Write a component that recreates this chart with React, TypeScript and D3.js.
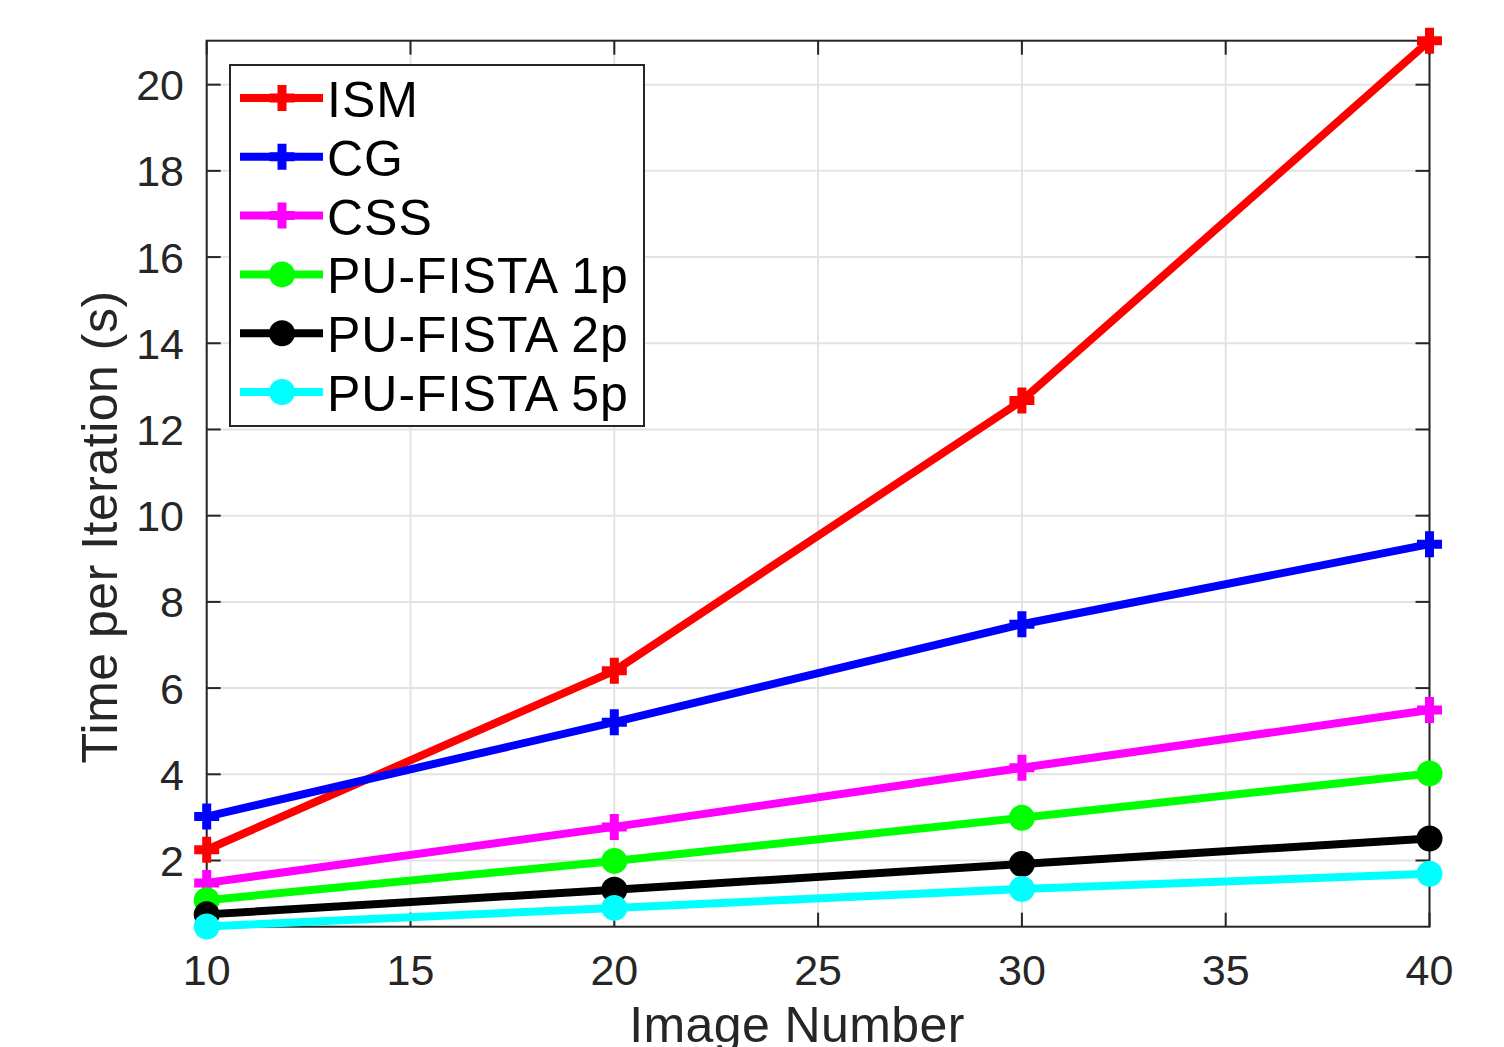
import React from 'react';
import * as d3 from 'd3';

const imageNumbers = [10, 20, 30, 40];
const ismTimes = [2.25, 6.4, 12.67, 21.02];
const cgTimes = [3.02, 5.21, 7.48, 9.34];
const cssTimes = [1.48, 2.78, 4.15, 5.49];
const pu1Times = [1.08, 1.99, 2.99, 4.02];
const pu2Times = [0.75, 1.32, 1.92, 2.51];
const pu5Times = [0.47, 0.9, 1.34, 1.69];

const seriesNames = ['ISM', 'CG', 'CSS', 'PU-FISTA 1p', 'PU-FISTA 2p', 'PU-FISTA 5p'];
const seriesColors = ['#ff0000', '#0000ff', '#ff00ff', '#00ff00', '#000000', '#00ffff'];
const seriesMarkers = ['plus', 'plus', 'plus', 'circle', 'circle', 'circle'];
const seriesValues = [ismTimes, cgTimes, cssTimes, pu1Times, pu2Times, pu5Times];

const xTicks = [10, 15, 20, 25, 30, 35, 40];
const yTicks = [2, 4, 6, 8, 10, 12, 14, 16, 18, 20];

const font = '"Liberation Sans", Arial, Helvetica, sans-serif';
const axisColor = '#262626';

const Marker = ({ kind, x, y, color }: { kind: string; x: number; y: number; color: string }) => {
  if (kind === 'plus') {
    return (
      <path
        d={`M${x - 12.5},${y}H${x + 12.5}M${x},${y - 13}V${y + 13}`}
        stroke={color}
        strokeWidth={9}
        fill="none"
      />
    );
  }
  return <circle cx={x} cy={y} r={13} fill={color} />;
};

export default function App() {
  const width = 1504;
  const height = 1047;
  const left = 206.7;
  const right = 1429.5;
  const top = 40.7;
  const bottom = 926.7;

  const x = d3.scaleLinear().domain([10, 40]).range([left, right]);
  const y = d3.scaleLinear().domain([0.464, 21.02]).range([bottom, top]);

  const line = d3
    .line<number>()
    .x((_, i) => x(imageNumbers[i]))
    .y((d) => y(d));

  const tickLen = 14;
  const legendX = 230;
  const legendY = 65;
  const legendW = 414;
  const legendH = 361;
  const rowY = (i: number) => 98 + i * 58.8;

  return (
    <svg
      width={width}
      height={height}
      style={{ position: 'absolute', left: 0, top: 0, background: '#fff' }}
      fontFamily={font}
    >
      <rect x={0} y={0} width={width} height={height} fill="#fff" />
      {/* grid */}
      <g stroke="#e3e3e3" strokeWidth={2}>
        {xTicks.map((t) => (
          <line key={'gx' + t} x1={x(t)} x2={x(t)} y1={top} y2={bottom} />
        ))}
        {yTicks.map((t) => (
          <line key={'gy' + t} x1={left} x2={right} y1={y(t)} y2={y(t)} />
        ))}
      </g>
      {/* ticks on all sides */}
      <g stroke={axisColor} strokeWidth={2}>
        {xTicks.map((t) => (
          <g key={'tx' + t}>
            <line x1={x(t)} x2={x(t)} y1={bottom} y2={bottom - tickLen} />
            <line x1={x(t)} x2={x(t)} y1={top} y2={top + tickLen} />
          </g>
        ))}
        {yTicks.map((t) => (
          <g key={'ty' + t}>
            <line x1={left} x2={left + tickLen} y1={y(t)} y2={y(t)} />
            <line x1={right} x2={right - tickLen} y1={y(t)} y2={y(t)} />
          </g>
        ))}
        <rect x={left} y={top} width={right - left} height={bottom - top} fill="none" />
      </g>
      {/* tick labels */}
      <g fill={axisColor} fontSize={43}>
        {xTicks.map((t) => (
          <text key={'lx' + t} x={x(t)} y={985} textAnchor="middle">
            {t}
          </text>
        ))}
        {yTicks.map((t) => (
          <text key={'ly' + t} x={184} y={y(t) + 15.5} textAnchor="end">
            {t}
          </text>
        ))}
      </g>
      <text x={797} y={1042} textAnchor="middle" fontSize={50} fill={axisColor} letterSpacing={0.4}>
        Image Number
      </text>
      <text
        transform={`translate(117,527) rotate(-90)`}
        textAnchor="middle"
        fontSize={50}
        fill={axisColor}
        letterSpacing={0.5}
      >
        Time per Iteration (s)
      </text>
      {/* series */}
      {seriesValues.map((vals, s) => (
        <g key={seriesNames[s]}>
          <path d={line(vals) || ''} fill="none" stroke={seriesColors[s]} strokeWidth={8} strokeLinejoin="round" />
          {vals.map((v, i) => (
            <Marker key={i} kind={seriesMarkers[s]} x={x(imageNumbers[i])} y={y(v)} color={seriesColors[s]} />
          ))}
        </g>
      ))}
      {/* legend */}
      <rect x={legendX} y={legendY} width={legendW} height={legendH} fill="#fff" stroke={axisColor} strokeWidth={2} />
      {seriesNames.map((name, s) => (
        <g key={'lg' + name}>
          <line x1={240} x2={323} y1={rowY(s)} y2={rowY(s)} stroke={seriesColors[s]} strokeWidth={8} />
          <Marker kind={seriesMarkers[s]} x={282} y={rowY(s)} color={seriesColors[s]} />
          <text x={327} y={rowY(s) + 19} fontSize={50} fill="#000" letterSpacing={1}>
            {name}
          </text>
        </g>
      ))}
    </svg>
  );
}
